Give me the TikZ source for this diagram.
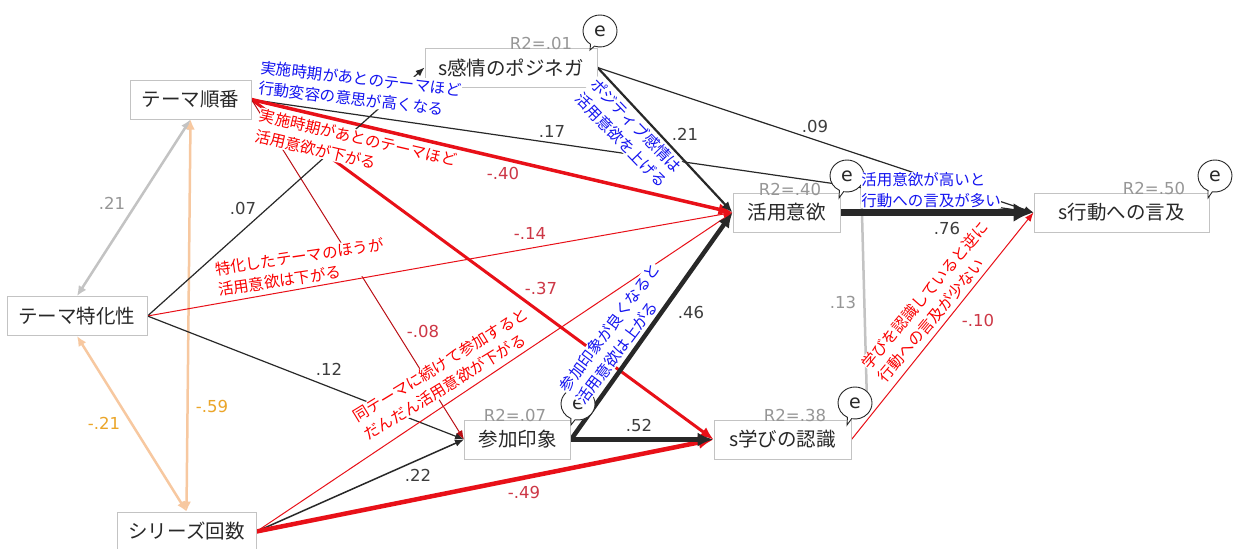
\documentclass[tikz,border=0pt]{standalone}
\usepackage{fontspec}
\setmainfont{Noto Sans CJK JP}
\newfontfamily\numfont{DejaVu Sans}
\usetikzlibrary{arrows.meta,shapes.callouts}
\definecolor{boxline}{RGB}{195,195,195}
\definecolor{txt}{RGB}{40,40,40}
\definecolor{lred}{RGB}{232,16,24}
\definecolor{numred}{RGB}{205,55,70}
\definecolor{peach}{RGB}{247,200,160}
\definecolor{numorange}{RGB}{235,165,40}
\definecolor{covgray}{RGB}{195,195,195}
\definecolor{numgray}{RGB}{150,150,150}
\definecolor{annblue}{RGB}{20,20,240}
\definecolor{annred}{RGB}{250,0,0}
\pgfdeclarelayer{bg}
\pgfsetlayers{bg,main}
\begin{document}
\begin{tikzpicture}[x=1pt,y=-1pt,
  box/.style={draw=boxline, line width=1, fill=white, minimum height=39, inner sep=0, text=txt, font=\fontsize{19.5}{22}\selectfont},
  num/.style={font=\numfont\fontsize{16.5}{20}\selectfont, text=txt!90, inner sep=1},
  rnum/.style={num, text=numred},
  onum/.style={num, text=numorange},
  gnum/.style={num, text=numgray},
  rtwo/.style={font=\numfont\fontsize{16.5}{20}\selectfont, text=numgray, inner sep=0},
  ebub/.style={ellipse callout, draw=txt, fill=white, line width=0.9, minimum width=34, minimum height=32, inner sep=0, font=\numfont\fontsize{19}{22}\selectfont, text=txt},
  ann/.style={fill=white, inner sep=0.5, align=left, font=\fontsize{15.5}{21}\selectfont},
  blk/.style={draw=txt, line width=1.2, -{Latex[length=9pt,width=7pt]}},
  rth/.style={draw=lred, line width=1, -{Latex[length=9pt,width=7pt]}},
  cov/.style={line width=2.5, {Latex[length=10pt,width=9pt]}-{Latex[length=10pt,width=9pt]}}
]
\useasboundingbox (0,0) rectangle (1240,549);

% boxes
\node[box, minimum width=121] (jun) at (190.5,99.5) {テーマ順番};
\node[box, minimum width=172] (kan) at (511,67.5) {s感情のポジネガ};
\node[box, minimum width=107] (kat) at (786.5,212.5) {活用意欲};
\node[box, minimum width=175] (kou) at (1121.5,212.5) {s行動への言及};
\node[box, minimum width=140] (tok) at (77,316) {テーマ特化性};
\node[box, minimum width=106] (san) at (517.5,439.5) {参加印象};
\node[box, minimum width=137] (man) at (782.5,439.5) {s学びの認識};
\node[box, minimum width=139] (ser) at (186.5,531.5) {シリーズ回数};

% R2 labels
\node[rtwo] (r1) at (541,43) {R2=.01};
\node[rtwo] (r2) at (790,189) {R2=.40};
\node[rtwo] (r3) at (1154,188) {R2=.50};
\node[rtwo] (r4) at (515,415) {R2=.07};
\node[rtwo] (r5) at (795,415) {R2=.38};

% error bubbles
\node[ebub, callout absolute pointer={(590,50)}] (e1) at (600,31) {e};
\node[ebub, callout absolute pointer={(839,198)}] (e2) at (847,176) {e};
\node[ebub, callout absolute pointer={(1208,198)}] (e3) at (1215,176) {e};
\node[ebub, callout absolute pointer={(571,425)}] (e4) at (578,404) {e};
\node[ebub, callout absolute pointer={(847,425)}] (e5) at (855,403) {e};

\begin{pgfonlayer}{bg}
\fill[white] (0,0) rectangle (1240,549);
% correlations
\draw[cov, draw=covgray] (jun.south) -- (tok.north);
\draw[cov, draw=peach] (jun.south) -- (ser.north);
\draw[cov, draw=peach] (tok.south) -- (ser.north);
\draw[draw=covgray, line width=2.5] ([xshift=14]e2.center) -- ([xshift=12]e5.center);
% paths from テーマ順番
\draw[blk] (jun.east) -- (kou.west);
\draw[draw=lred, line width=3.5, -{Latex[length=14pt,width=12pt]}] (jun.east) -- (kat.west);
\draw[draw=lred, line width=3, -{Latex[length=13pt,width=11pt]}] (jun.east) -- (man.west);
\draw[rth, draw=lred!80!black] (jun.east) -- (san.west);
% paths from テーマ特化性
\draw[blk] (tok.east) -- (kan.west);
\draw[rth] (tok.east) -- (kat.west);
\draw[blk] (tok.east) -- (san.west);
% paths from シリーズ回数
\draw[rth] (ser.east) -- (kat.west);
\draw[blk, line width=1.5] (ser.east) -- (san.west);
\draw[draw=lred, line width=4.5, -{Latex[length=15pt,width=13pt]}] (ser.east) -- (man.west);
% paths from s感情
\draw[blk, line width=2.2, -{Latex[length=11pt,width=9pt]}] (kan.east) -- (kat.west);
\draw[blk] (kan.east) -- (kou.west);
% paths from 参加印象
\draw[blk, line width=4.5, -{Latex[length=15pt,width=13pt]}] (san.east) -- (kat.west);
\draw[blk, line width=5, -{Latex[length=16pt,width=14pt]}] (san.east) -- (man.west);
% to s行動
\draw[blk, line width=7, -{Latex[length=20pt,width=19pt]}] (kat.east) -- (kou.west);
\draw[rth] (man.east) -- (kou.west);
\end{pgfonlayer}

% annotations
\node[ann, text=annblue, rotate=-6.5] (a1) at (360,89) {実施時期があとのテーマほど\\行動変容の意思が高くなる};
\node[ann, text=annred, rotate=-13] (a2) at (356,148) {実施時期があとのテーマほど\\活用意欲が下がる};
\node[ann, text=annblue, rotate=-46] (a3) at (629,133) {ポジティブ感情は\\活用意欲を上げる};
\node[ann, text=annblue] (a4) at (931,190) {活用意欲が高いと\\行動への言及が多い};
\node[ann, text=annred, rotate=8.5] (a5) at (301,267) {特化したテーマのほうが\\活用意欲は下がる};
\node[ann, text=annred, rotate=31.5] (a6) at (446,374) {同テーマに続けて参加すると\\だんだん活用意欲が下がる};
\node[ann, text=annblue, rotate=53] (a7) at (618,334) {参加印象が良くなると\\活用意欲は上がる};
\node[ann, text=annred, rotate=50] (a8) at (933,302) {学びを認識していると逆に\\行動への言及が少ない};

% coefficient labels
\node[gnum] (n1) at (112,203) {.21};
\node[onum] (n2) at (104,423) {-.21};
\node[onum] (n3) at (212,406) {-.59};
\node[num] (n4) at (243,208) {.07};
\node[num] (n5) at (329,369) {.12};
\node[num] (n6) at (552,131) {.17};
\node[num] (n7) at (685,134) {.21};
\node[num] (n8) at (815,126) {.09};
\node[rnum] (n9) at (503,173) {-.40};
\node[rnum] (n10) at (530,233) {-.14};
\node[rnum] (n11) at (541,288) {-.37};
\node[rnum] (n12) at (423,331) {-.08};
\node[num] (n13) at (691,312) {.46};
\node[num] (n14) at (639,425) {.52};
\node[num] (n15) at (418,475) {.22};
\node[rnum] (n16) at (524,492) {-.49};
\node[num] (n17) at (947,228) {.76};
\node[gnum] (n18) at (843,302) {.13};
\node[rnum] (n19) at (978,320) {-.10};
\end{tikzpicture}
\end{document}
